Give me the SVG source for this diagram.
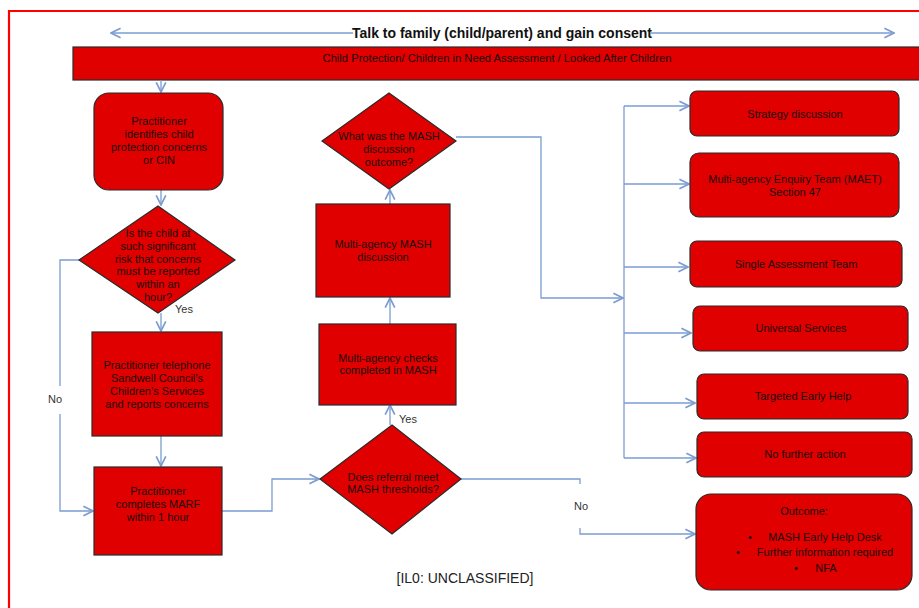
<svg xmlns="http://www.w3.org/2000/svg" width="919" height="608" viewBox="0 0 919 608">
<style>
.box{fill:#e00000;stroke:#2a2a2a;stroke-width:1.2}
.t{font-family:"Liberation Sans",Arial,sans-serif;font-size:11px;fill:#1a0a0a;text-anchor:middle}
.lbl{font-family:"Liberation Sans",Arial,sans-serif;font-size:11px;fill:#333;text-anchor:start}
.c{fill:none;stroke:#7b9cd0;stroke-width:1.3}
</style>
<defs>
<marker id="ah" markerUnits="userSpaceOnUse" markerWidth="12" markerHeight="12" viewBox="0 0 10 10" refX="9" refY="5" orient="auto">
<path d="M1,1 L9,5 L1,9" fill="none" stroke="#7b9cd0" stroke-width="1.4"/>
</marker>
</defs>
<rect width="919" height="608" fill="#fff"/>
<path d="M9,620 V11 H930" fill="none" stroke="#ff0000" stroke-width="2.2"/>

<g id="title">
<text x="502" y="38" style="font-family:'Liberation Sans',Arial,sans-serif;font-size:14px;font-weight:bold;fill:#111" text-anchor="middle">Talk to family (child/parent) and gain consent</text>
</g>
<g id="banner">
<rect class="box" x="73" y="47" width="880" height="33"/>
<text class="t" x="497" y="62" style="font-size:11.2px">Child Protection/ Children in Need Assessment / Looked After Children</text>
</g>

<g id="connectors">
<path class="c" d="M353,33 H111" marker-end="url(#ah)"/>
<path class="c" d="M650,33 H894" marker-end="url(#ah)"/>
<path class="c" d="M161,80 V92" marker-end="url(#ah)"/>
<path class="c" d="M161,190 V205" marker-end="url(#ah)"/>
<path class="c" d="M161,313 V331" marker-end="url(#ah)"/>
<path class="c" d="M79,260 H60 V386"/>
<path class="c" d="M60,414 V511 H93" marker-end="url(#ah)"/>
<path class="c" d="M161,436 V466" marker-end="url(#ah)"/>
<path class="c" d="M222,511 H272 V479 H319" marker-end="url(#ah)"/>
<path class="c" d="M390,425 V405" marker-end="url(#ah)"/>
<path class="c" d="M390,324 V298" marker-end="url(#ah)"/>
<path class="c" d="M390,204 V190" marker-end="url(#ah)"/>
<path class="c" d="M456,137 H541 V298 H623" marker-end="url(#ah)"/>
<path class="c" d="M624,106 V458"/>
<path class="c" d="M624,106 H689" marker-end="url(#ah)"/>
<path class="c" d="M624,184 H689" marker-end="url(#ah)"/>
<path class="c" d="M624,267 H688" marker-end="url(#ah)"/>
<path class="c" d="M624,333 H691" marker-end="url(#ah)"/>
<path class="c" d="M624,403 H695" marker-end="url(#ah)"/>
<path class="c" d="M624,458 H696" marker-end="url(#ah)"/>
<path class="c" d="M460,479 H580 V484"/>
<path class="c" d="M580,528 V534 H695" marker-end="url(#ah)"/>
<text class="lbl" x="48" y="403">No</text>
<text class="lbl" x="574" y="510">No</text>
<text class="lbl" x="175" y="313">Yes</text>
<text class="lbl" x="399" y="423">Yes</text>
</g>

<g id="n1">
<rect class="box" x="94" y="93" width="129" height="97" rx="15"/>
<text class="t" x="159" y="125">Practitioner</text>
<text class="t" x="159" y="138">identifies child</text>
<text class="t" x="159" y="151">protection concerns</text>
<text class="t" x="159" y="164">or CIN</text>
</g>
<g id="d1">
<polygon class="box" points="158,206 235,260 158,313 79,260"/>
<text class="t" x="158" y="237">Is the child at</text>
<text class="t" x="158" y="250">such significant</text>
<text class="t" x="158" y="263">risk that concerns</text>
<text class="t" x="158" y="275">must be reported</text>
<text class="t" x="158" y="288">within an</text>
<text class="t" x="158" y="301">hour?</text>
</g>
<g id="n2">
<rect class="box" x="92" y="332" width="130" height="104"/>
<text class="t" x="157" y="369">Practitioner telephone</text>
<text class="t" x="157" y="382">Sandwell Council’s</text>
<text class="t" x="157" y="395">Children’s Services</text>
<text class="t" x="157" y="408">and reports concerns</text>
</g>
<g id="n3">
<rect class="box" x="94" y="467" width="128" height="88"/>
<text class="t" x="158" y="495">Practitioner</text>
<text class="t" x="158" y="508">completes MARF</text>
<text class="t" x="158" y="521">within 1 hour</text>
</g>
<g id="d2">
<polygon class="box" points="392,425 461,479 392,534 320,479"/>
<text class="t" x="393" y="481">Does referral meet</text>
<text class="t" x="393" y="493">MASH thresholds?</text>
</g>
<g id="n4">
<rect class="box" x="319" y="324" width="137" height="81"/>
<text class="t" x="388" y="362">Multi-agency checks</text>
<text class="t" x="388" y="374">completed in MASH</text>
</g>
<g id="n5">
<rect class="box" x="316" y="204" width="134" height="93"/>
<text class="t" x="383" y="248">Multi-agency MASH</text>
<text class="t" x="383" y="261">discussion</text>
</g>
<g id="d3">
<polygon class="box" points="389,93 456,141 389,189 322,141"/>
<text class="t" x="389" y="140">What was the MASH</text>
<text class="t" x="389" y="153">discussion</text>
<text class="t" x="389" y="166">outcome?</text>
</g>
<g id="r1">
<rect class="box" x="690" y="91" width="209" height="45" rx="7"/>
<text class="t" x="795" y="118">Strategy discussion</text>
</g>
<g id="r2">
<rect class="box" x="690" y="153" width="209" height="64" rx="9"/>
<text class="t" x="795" y="183">Multi-agency Enquiry Team (MAET)</text>
<text class="t" x="795" y="196">Section 47</text>
</g>
<g id="r3">
<rect class="box" x="690" y="241" width="212" height="46" rx="7"/>
<text class="t" x="796" y="268">Single Assessment Team</text>
</g>
<g id="r4">
<rect class="box" x="693" y="306" width="215" height="45" rx="7"/>
<text class="t" x="801" y="332">Universal Services</text>
</g>
<g id="r5">
<rect class="box" x="697" y="374" width="211" height="45" rx="7"/>
<text class="t" x="803" y="400">Targeted Early Help</text>
</g>
<g id="r6">
<rect class="box" x="697" y="432" width="215" height="45" rx="7"/>
<text class="t" x="805" y="458">No further action</text>
</g>
<g id="r7">
<rect class="box" x="696" y="494" width="216" height="96" rx="15"/>
<text class="t" x="804" y="515">Outcome:</text>
<text class="t" x="750" y="541">•</text>
<text class="t" x="825" y="541">MASH Early Help Desk</text>
<text class="t" x="738" y="556">•</text>
<text class="t" x="825" y="556">Further information required</text>
<text class="t" x="796" y="572">•</text>
<text class="t" x="826" y="572">NFA</text>
</g>
<text x="465" y="583" style="font-family:'Liberation Sans',Arial,sans-serif;font-size:14px;fill:#222" text-anchor="middle">[IL0: UNCLASSIFIED]</text>
</svg>
